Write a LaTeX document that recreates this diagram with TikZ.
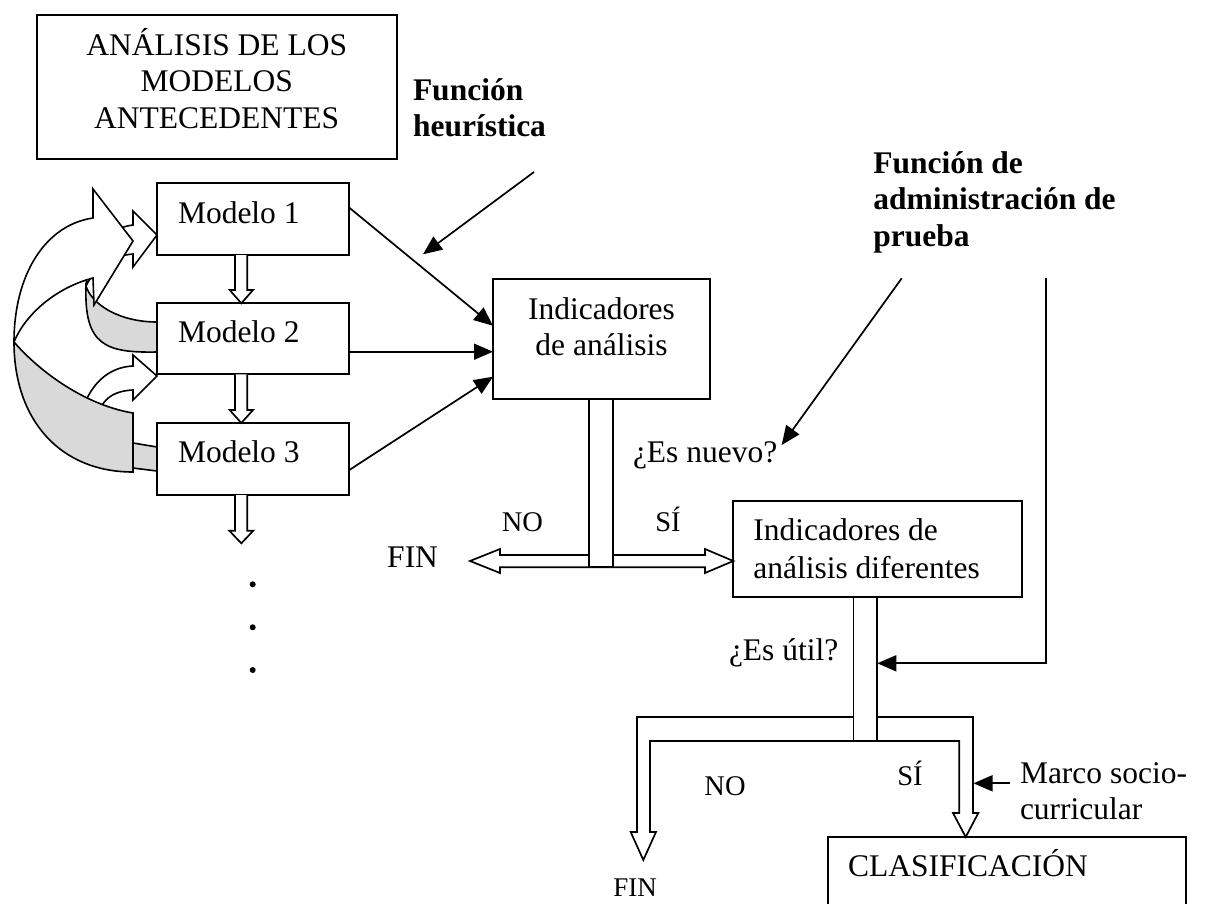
\documentclass[tikz,border=0pt]{standalone}
\usepackage{fontspec}
\setmainfont{Liberation Serif}
\usetikzlibrary{arrows.meta,calc}
\definecolor{backgray}{RGB}{217,217,217}
\begin{document}
\begin{tikzpicture}[x=1pt,y=-1pt,
  every node/.style={inner sep=0pt,outer sep=0pt},
  box/.style={draw,line width=1.8pt,fill=white,anchor=north west},
  txt/.style={font=\fontsize{31.5}{36}\selectfont},
  btxt/.style={font=\fontsize{31.5}{36}\selectfont\bfseries},
  stxt/.style={font=\fontsize{28.5}{34}\selectfont},
  conn/.style={line width=1.7pt,-{Triangle[length=19pt,width=16pt]}},
  hollow/.style={draw,line width=1.7pt,fill=white,line join=miter},
  band/.style={draw,line width=1.6pt,fill=white,line join=miter},
  back/.style={draw,line width=1.6pt,fill=backgray,line join=miter},
]
\useasboundingbox (0,0) rectangle (1211,903);
\clip (0,0) rectangle (1211,903);

% ---- curved feedback arrows (left) ----
% arrow C: Modelo 3 -> Modelo 2
\path[back] (157,447) -- (157,471) -- (133,468) -- (112,465) -- (112,440) -- (133,443) -- cycle;
\path[band] (80,418) .. controls (88,385) and (108,367) .. (133,366) -- (133,355) -- (157,376)
  -- (133,400) -- (133,390) .. controls (112,391) and (100,400) .. (96,422) -- cycle;
% arrow B: Modelo 2 -> Modelo 1
\path[back] (157,322) -- (157,352) .. controls (105,353) and (84,345) .. (86,286)
  .. controls (92,305) and (120,322) .. (157,322) -- cycle;
\path[band] (86,286) .. controls (88,255) and (105,228) .. (133,225) -- (133,211) -- (157,235)
  -- (133,267) -- (133,254) .. controls (110,256) and (95,268) .. (86,286) -- cycle;
% arrow A: Modelo 3 -> Modelo 1
\path[back] (133,413) -- (133,472) .. controls (60,472) and (14,420) .. (14,342)
  .. controls (40,372) and (85,405) .. (133,413) -- cycle;
\path[band] (14,342) .. controls (14,275) and (45,225) .. (93,218) -- (93,189) -- (133,241)
  -- (94,305) -- (93,278) .. controls (55,288) and (25,315) .. (14,342) -- cycle;

% ---- boxes ----
\node[box,minimum width=360pt,minimum height=144.3pt] (ant) at (36.7,15) {};
\node[box,minimum width=192.3pt,minimum height=71.7pt] (m1) at (157,183.3) {};
\node[box,minimum width=192.3pt,minimum height=71pt] (m2) at (157,303.3) {};
\node[box,minimum width=192.3pt,minimum height=72pt] (m3) at (157,423) {};
\node[box,minimum width=217pt,minimum height=119.4pt] (ind) at (493,279.3) {};
\node[box,minimum width=288.4pt,minimum height=96.6pt] (dif) at (733.3,500.7) {};
\node[box,minimum width=357.7pt,minimum height=100pt] (clas) at (828.3,837) {};

% ---- hollow down arrows between models ----
\draw[hollow] (235,255) -- (235,290) -- (229.7,290) -- (241.3,303.3) -- (253,290) -- (247.3,290) -- (247.3,255);
\draw[hollow] (235,374.3) -- (235,410) -- (229.7,410) -- (241.3,423) -- (253,410) -- (247.3,410) -- (247.3,374.3);
\draw[hollow] (235,495) -- (235,530.7) -- (229.3,530.7) -- (241.3,543.3) -- (253.3,530.7) -- (247.3,530.7) -- (247.3,495);
\fill (252.7,584.3) circle (3pt);
\fill (252.7,627.3) circle (3pt);
\fill (252.7,670) circle (3pt);

% ---- connectors to Indicadores de análisis ----
\draw[conn] ($(m1.north east)+(0,24.4)$) -- ($(ind.north west)+(0,46.4)$);
\draw[conn] ($(m2.north east)+(0,48.4)$) -- ($(ind.north west)+(0,72.4)$);
\draw[conn] ($(m3.north east)+(0,47)$) -- ($(ind.north west)+(0,97.4)$);
\coordinate (fhs) at (534,172);
\coordinate (fhe) at (423,254.3);
\draw[conn] (fhs) -- (fhe);

% ---- first decision (¿Es nuevo?) ----
\path[hollow] (470,561) -- (500,549) -- (500,555) -- (705,555) -- (705,549) -- (dif.west |- 0,561)
  -- (705,573) -- (705,567.3) -- (500,567.3) -- (500,573) -- cycle;
\node[box,minimum width=24pt,minimum height=168.6pt] (stemA) at (589.3,398.7) {};
\coordinate (fas) at (901.7,278.3);
\coordinate (fae) at (781.7,445);
\draw[conn] (fas) -- (fae);

% ---- second decision (¿Es útil?) ----
\path[hollow] (637,717) -- (973,717) -- (973,813) -- (978.3,813) -- (965.7,837) -- (953,813)
  -- (959.3,813) -- (959.3,741) -- (650,741) -- (650,832) -- (656,832) -- (643.3,860)
  -- (630.7,832) -- (637,832) -- cycle;
\node[box,minimum width=23.8pt,minimum height=143.7pt] (stemB) at (853.5,597.3) {};
\coordinate (fline) at (1045.7,278.3);
\draw[conn] (fline) -- (1045.7,663.3) -- (stemB.east |- 0,663.3);
\coordinate (mcs) at (1010,783.3);
\draw[conn] (mcs) -- (973.5,783.3);

% ---- texts ----
\node[txt,anchor=base] (antl1) at (216.7,55) {ANÁLISIS DE LOS};
\node[txt,anchor=base] (antl2) at (216.7,91.5) {MODELOS};
\node[txt,anchor=base] (antl3) at (216.7,128) {ANTECEDENTES};
\node[txt,anchor=base west] (m1t) at (178,223.3) {Modelo 1};
\node[txt,anchor=base west] (m2t) at (178,342.7) {Modelo 2};
\node[txt,anchor=base west] (m3t) at (178,462) {Modelo 3};
\node[txt,anchor=base] (indt1) at (601.5,319.3) {Indicadores};
\node[txt,anchor=base] (indt2) at (601.5,355) {de análisis};
\node[txt,anchor=base west] (dift1) at (753.3,540.7) {Indicadores de};
\node[txt,anchor=base west] (dift2) at (753.3,578.3) {análisis diferentes};
\node[txt,anchor=base west] (clast) at (848,876.7) {CLASIFICACIÓN};
\node[btxt,anchor=base west] (fh1) at (413,100) {Función};
\node[btxt,anchor=base west] (fh2) at (413,136.5) {heurística};
\node[btxt,anchor=base west] (fa1) at (873.3,173.3) {Función de};
\node[btxt,anchor=base west] (fa2) at (873.3,209.8) {administración de};
\node[btxt,anchor=base west] (fa3) at (873.3,246.3) {prueba};
\node[txt,anchor=base west] (nuevo) at (633,462) {¿Es nuevo?};
\node[txt,anchor=base west] (util) at (729,660) {¿Es útil?};
\node[stxt,anchor=base] (no1) at (522.5,531.7) {NO};
\node[stxt,anchor=base] (si1) at (668,531.7) {SÍ};
\node[txt,anchor=base east] (fin1) at (438,567.3) {FIN};
\node[stxt,anchor=base] (si2) at (910,785) {SÍ};
\node[stxt,anchor=base] (no2) at (725,795) {NO};
\node[font=\fontsize{27}{32}\selectfont,anchor=base] (fin2) at (635,896.7) {FIN};
\node[txt,anchor=base west] (marco1) at (1020,783) {Marco socio-};
\node[txt,anchor=base west] (marco2) at (1020,819) {curricular};
\end{tikzpicture}
\end{document}
